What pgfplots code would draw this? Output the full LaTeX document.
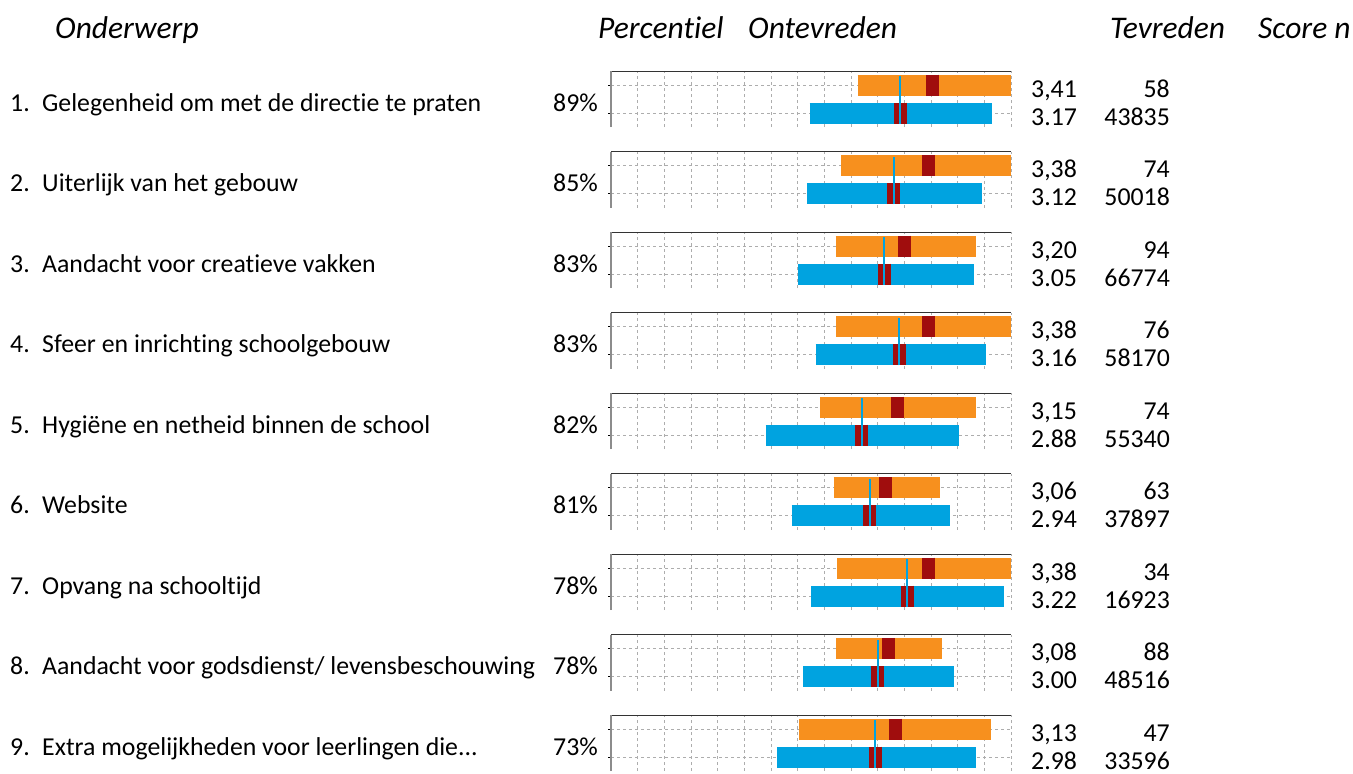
\documentclass[border=0pt]{standalone}
\usepackage{fontspec}
\setmainfont{Carlito}[Ligatures=NoCommon]
\usepackage{pgfplots}
\pgfplotsset{compat=1.18}
\definecolor{bOrange}{HTML}{F7901E}
\definecolor{bBlue}{HTML}{00A3E0}
\definecolor{bRed}{HTML}{A00D0D}

\pgfplotsset{mini/.style={
  scale only axis, width=400pt, height=56pt, anchor=north west,
  xmin=1, xmax=4, ymin=0.5, ymax=2.5,
  clip mode=individual,
  axis x line=top, axis y line=left, axis line style={-},
  x axis line style={black!80, line width=0.8pt},
  y axis line style={black!45, line width=1.8pt},
  xtick={1,1.2,1.4,1.6,1.8,2,2.2,2.4,2.6,2.8,3,3.2,3.4,3.6,3.8,4},
  ytick={1,2},
  xticklabels={}, yticklabels={},
  xmajorgrids, ymajorgrids,
  grid style={black!32, line width=0.7pt, dash pattern=on 3pt off 3pt},
  xtick style={draw=none},
  ytick style={black, line width=0.8pt},
  tick align=outside, major tick length=3pt,
}}

% #1 row, #2 orange low, #3 orange high, #4 school score, #5 blue low, #6 blue high, #7 benchmark score
\newcommand\minirow[7]{%
\begin{axis}[mini, at={(611pt,{-71pt-(#1-1)*80.5pt})}]
\addplot[bOrange, line width=21pt] coordinates {(#2,2) (#3,2)};
\addplot[bBlue, line width=21pt] coordinates {(#5,1) (#6,1)};
\addplot[only marks, mark=|, mark size=10.5pt, mark options={bRed, line width=13pt}] coordinates {(#4,2) (#7,1)};
\addplot[bBlue, line width=2pt] coordinates {(#7,0.61) (#7,2.32)};
\end{axis}}

\tikzset{lab/.style={font=\fontsize{25.8}{30}\selectfont, inner sep=0pt},
         hdr/.style={font=\fontsize{31.5}{36}\selectfont\itshape, inner sep=0pt}}

% #1 row, #2 label, #3 percentile, #4 school score, #5 benchmark score, #6 n school, #7 n benchmark
\newcommand\rowtext[7]{%
\begin{scope}[yshift={-(#1-1)*80.5pt}]
\node[lab, anchor=base west] at (10pt,-111pt) {#1.};
\node[lab, anchor=base west] at (42pt,-111pt) {#2};
\node[lab, anchor=base east] at (598pt,-111pt) {#3\%};
\node[lab, anchor=base west] at (1031pt,-97pt) {#4};
\node[lab, anchor=base west] at (1031pt,-125pt) {#5};
\node[lab, anchor=base east] at (1170pt,-97pt) {#6};
\node[lab, anchor=base east] at (1170pt,-125pt) {#7};
\end{scope}}

\begin{document}
\begin{tikzpicture}
\path[use as bounding box] (0,0) rectangle (1353pt,-774pt);

\node[hdr, anchor=base west] at (55pt,-38pt) {Onderwerp};
\node[hdr, anchor=base west] at (598pt,-38pt) {Percentiel};
\node[hdr, anchor=base west] at (748pt,-38pt) {Ontevreden};
\node[hdr, anchor=base west] at (1110pt,-38pt) {Tevreden};
\node[hdr, anchor=base west] at (1258pt,-38pt) {Score n};

\minirow{1}{2.85}{4.00}{3.41}{2.49}{3.86}{3.17}
\minirow{2}{2.725}{4.00}{3.38}{2.47}{3.78}{3.12}
\minirow{3}{2.685}{3.735}{3.20}{2.40}{3.72}{3.05}
\minirow{4}{2.69}{4.00}{3.38}{2.535}{3.81}{3.16}
\minirow{5}{2.57}{3.74}{3.15}{2.16}{3.61}{2.88}
\minirow{6}{2.67}{3.47}{3.06}{2.355}{3.54}{2.94}
\minirow{7}{2.695}{4.00}{3.38}{2.50}{3.95}{3.22}
\minirow{8}{2.69}{3.48}{3.08}{2.44}{3.57}{3.00}
\minirow{9}{2.41}{3.85}{3.13}{2.245}{3.735}{2.98}

\rowtext{1}{Gelegenheid om met de directie te praten}{89}{3,41}{3.17}{58}{43835}
\rowtext{2}{Uiterlijk van het gebouw}{85}{3,38}{3.12}{74}{50018}
\rowtext{3}{Aandacht voor creatieve vakken}{83}{3,20}{3.05}{94}{66774}
\rowtext{4}{Sfeer en inrichting schoolgebouw}{83}{3,38}{3.16}{76}{58170}
\rowtext{5}{Hygiëne en netheid binnen de school}{82}{3,15}{2.88}{74}{55340}
\rowtext{6}{Website}{81}{3,06}{2.94}{63}{37897}
\rowtext{7}{Opvang na schooltijd}{78}{3,38}{3.22}{34}{16923}
\rowtext{8}{Aandacht voor godsdienst/ levensbeschouwing}{78}{3,08}{3.00}{88}{48516}
\rowtext{9}{Extra mogelijkheden voor leerlingen die...}{73}{3,13}{2.98}{47}{33596}
\end{tikzpicture}
\end{document}
